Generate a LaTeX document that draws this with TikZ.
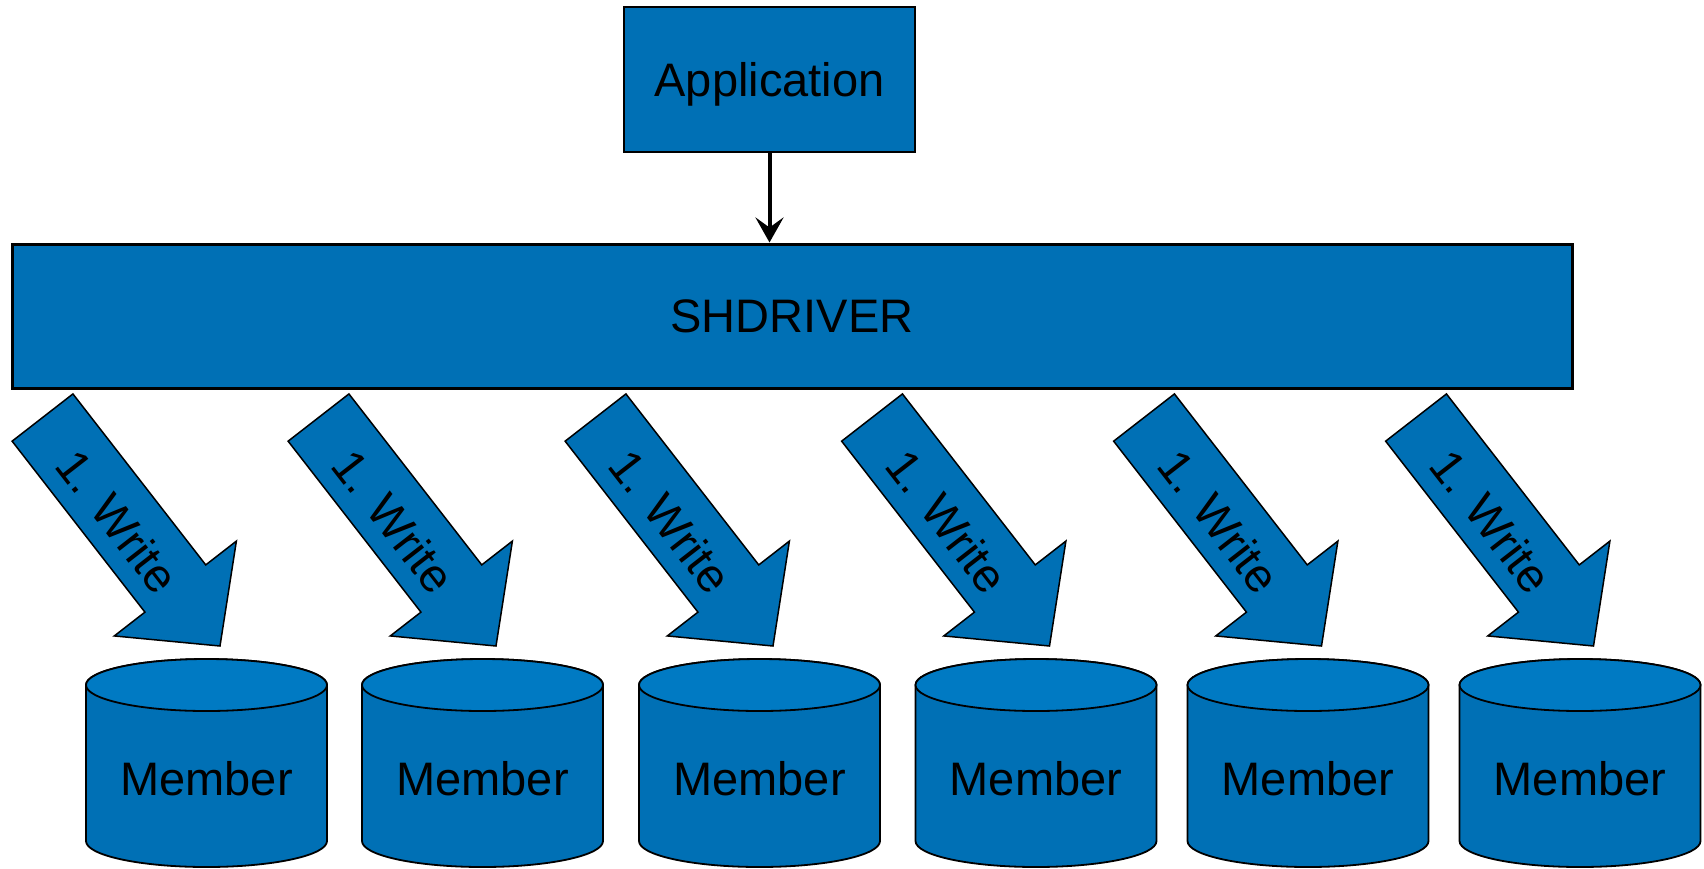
\documentclass[tikz,border=0pt]{standalone}
\usepackage{fontspec}
\setmainfont{Liberation Sans}
\usetikzlibrary{arrows.meta}
\definecolor{boxblue}{HTML}{0070B5}
\definecolor{topblue}{HTML}{007AC3}

\begin{document}
\begin{tikzpicture}[x=1pt,y=1pt,
  bigtext/.style={font=\fontsize{47}{56}\selectfont},
  block/.style={draw=black, fill=boxblue, bigtext, inner sep=0pt, text depth=0pt},
  writearrow/.style={draw=black, line width=1.5pt, fill=boxblue, line join=miter},
  writetext/.style={bigtext, inner sep=0pt, anchor=center},
  cylline/.style={draw=black, line width=1.8pt},
  feed/.style={line width=4pt, -{Stealth[length=25pt, width=28pt, inset=10pt]}}
]
  \useasboundingbox (0,0) rectangle (1704,-868);

  % driver layer and the application on top of it
  \node[block, line width=2pt, minimum width=291pt, minimum height=145pt]
    (app) at (769.5,-79.5) {Application};
  \node[block, line width=3pt, minimum width=1560pt, minimum height=144pt]
    (shd) at (792,-316) {SHDRIVER};
  \draw[feed] (app.south) -- (app.south |- shd.north);

  % one write arrow and one member store per column
  \foreach \cx [count=\i] in {206.5,482.5,759.5,1036,1308,1580} {
    \begin{scope}[shift={(\cx+13.5,-646)}, rotate=-52.16, transform shape]
      \draw[writearrow] (-289.3,38.5) -- (-72.8,38.5) -- (-72.8,77.3) -- (0,0)
        -- (-72.8,-77.3) -- (-72.8,-38.5) -- (-289.3,-38.5) -- cycle;
      \node[writetext] (w\i) at (-161.3,-4) {1. Write};
    \end{scope}
    \filldraw[cylline, fill=boxblue] (\cx-120.5,-685) -- (\cx-120.5,-841)
      arc[start angle=180, end angle=360, x radius=120.5, y radius=26]
      -- (\cx+120.5,-685)
      arc[start angle=0, end angle=180, x radius=120.5, y radius=26] -- cycle;
    \filldraw[cylline, fill=topblue] (\cx,-685) ellipse[x radius=120.5, y radius=26];
    \node[bigtext, inner sep=0pt] (m\i) at (\cx,-779) {Member};
  }
\end{tikzpicture}
\end{document}
